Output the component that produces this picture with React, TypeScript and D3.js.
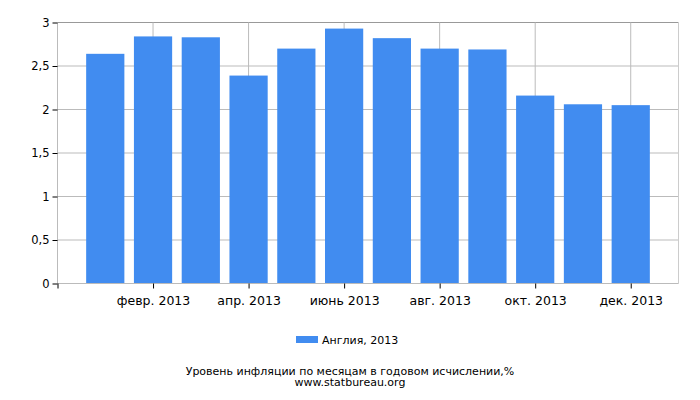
import React, { useEffect, useRef } from 'react';
import * as d3 from 'd3';

const months = ['янв. 2013', 'февр. 2013', 'март 2013', 'апр. 2013', 'май 2013', 'июнь 2013',
  'июль 2013', 'авг. 2013', 'сент. 2013', 'окт. 2013', 'нояб. 2013', 'дек. 2013'];
const values = [2.64, 2.84, 2.83, 2.39, 2.7, 2.93, 2.82, 2.7, 2.69, 2.16, 2.06, 2.05];
const yTicks = [0, 0.5, 1, 1.5, 2, 2.5, 3];
const seriesName = 'Англия, 2013';
const title = 'Уровень инфляции по месяцам в годовом исчислении,%';
const source = 'www.statbureau.org';

export default function App() {
  const svgRef = useRef<SVGSVGElement>(null);

  useEffect(() => {
    if (!svgRef.current) return;
    const width = 700;
    const height = 400;
    const margin = { top: 22.5, right: 21.5, bottom: 116.5, left: 57.5 };
    const font = "'DejaVu Sans', Verdana, sans-serif";
    const blue = '#418CF0';

    const svg = d3.select(svgRef.current);
    svg.selectAll('*').remove();

    // month i sits at slot i+1 of 13 slots
    const x = d3.scaleLinear()
      .domain([0, months.length + 1])
      .range([margin.left, width - margin.right]);
    const step = x(1) - x(0);

    const y = d3.scaleLinear()
      .domain([0, 3])
      .range([height - margin.bottom, margin.top]);

    const tickIdx = months.map((_, i) => i).filter(i => i % 2 === 1);

    // horizontal grid
    svg.append('g')
      .selectAll('line')
      .data(yTicks.slice(1))
      .enter()
      .append('line')
      .attr('x1', margin.left)
      .attr('x2', width - margin.right)
      .attr('y1', d => y(d))
      .attr('y2', d => y(d))
      .attr('stroke', d => (d === 3 ? '#999' : '#bbb'))
      .attr('stroke-width', 1);

    // vertical grid
    svg.append('g')
      .selectAll('line')
      .data(tickIdx)
      .enter()
      .append('line')
      .attr('x1', d => x(d + 1))
      .attr('x2', d => x(d + 1))
      .attr('y1', margin.top)
      .attr('y2', height - margin.bottom)
      .attr('stroke', '#bbb');

    // right border
    svg.append('line')
      .attr('x1', width - margin.right)
      .attr('x2', width - margin.right)
      .attr('y1', margin.top)
      .attr('y2', height - margin.bottom)
      .attr('stroke', '#ccc');

    // bars
    svg.append('g')
      .selectAll('rect')
      .data(values)
      .enter()
      .append('rect')
      .attr('x', (_, i) => x(i + 1) - step * 0.4)
      .attr('width', step * 0.8)
      .attr('y', d => y(d))
      .attr('height', d => y(0) - y(d))
      .attr('fill', blue);

    // axis lines
    svg.append('line')
      .attr('x1', margin.left).attr('x2', margin.left)
      .attr('y1', margin.top).attr('y2', y(0))
      .attr('stroke', '#bbb');
    svg.append('line')
      .attr('x1', margin.left).attr('x2', width - margin.right)
      .attr('y1', y(0)).attr('y2', y(0))
      .attr('stroke', '#bbb');

    // y axis
    const yAxis = svg.append('g')
      .attr('transform', `translate(${margin.left},0)`)
      .call(d3.axisLeft(y).tickValues(yTicks).tickSize(5).tickPadding(3)
        .tickFormat(d => String(d).replace('.', ',')));
    yAxis.select('.domain').remove();
    yAxis.selectAll('line').attr('stroke', '#000');
    yAxis.selectAll('text')
      .style('font-family', font)
      .style('font-size', '11.5px')
      .style('fill', '#000');

    // x axis
    const xAxis = svg.append('g')
      .attr('transform', `translate(0,${y(0)})`)
      .call(d3.axisBottom(x)
        .tickValues([0, ...tickIdx.map(i => i + 1)])
        .tickSize(5)
        .tickPadding(8)
        .tickFormat(d => (d === 0 ? '' : months[(d as number) - 1])));
    xAxis.select('.domain').remove();
    xAxis.selectAll('line').attr('stroke', '#000');
    xAxis.selectAll('text')
      .style('font-family', font)
      .style('font-size', '12.5px')
      .style('fill', '#000');

    // legend
    const legend = svg.append('g').attr('transform', 'translate(296,336)');
    legend.append('rect')
      .attr('width', 22).attr('height', 7)
      .attr('fill', blue);
    legend.append('text')
      .attr('x', 26).attr('y', 8)
      .text(seriesName)
      .style('font-family', font)
      .style('font-size', '11px')
      .style('fill', '#000');

    // caption
    svg.append('text')
      .attr('x', 350).attr('y', 374.5)
      .attr('text-anchor', 'middle')
      .text(title)
      .style('font-family', font)
      .style('font-size', '11px')
      .style('fill', '#000');
    svg.append('text')
      .attr('x', 350).attr('y', 385.5)
      .attr('text-anchor', 'middle')
      .text(source)
      .style('font-family', font)
      .style('font-size', '11px')
      .style('fill', '#000');
  }, []);

  return (
    <svg
      ref={svgRef}
      width={700}
      height={400}
      viewBox="0 0 700 400"
      style={{ position: 'absolute', left: 0, top: 0, background: '#fff' }}
    />
  );
}
